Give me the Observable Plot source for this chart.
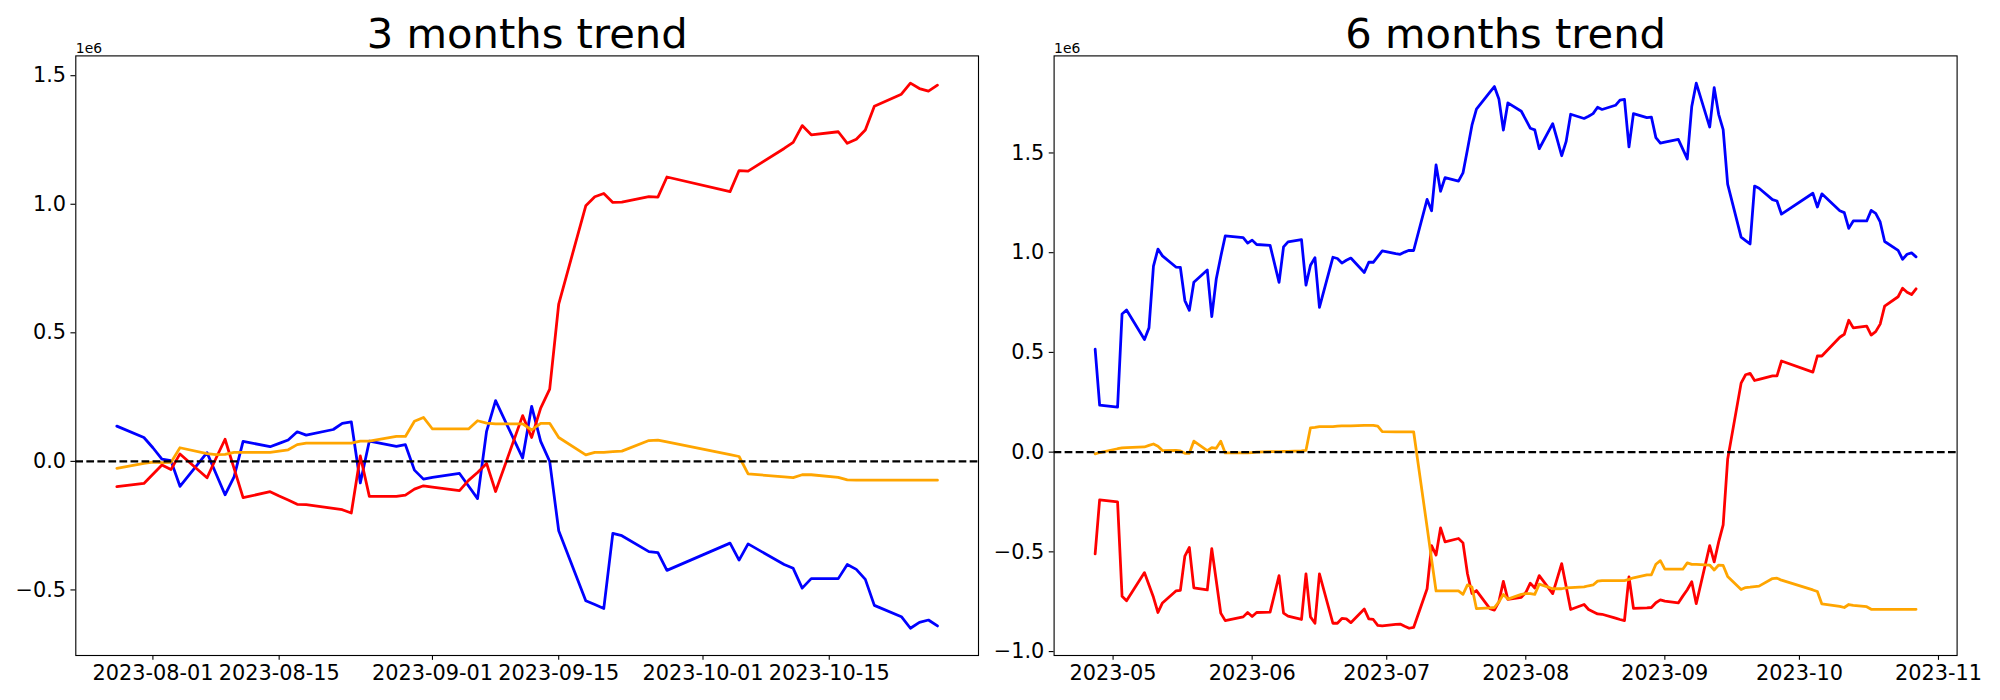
<!DOCTYPE html>
<html><head><meta charset="utf-8">
<script src="https://cdn.jsdelivr.net/npm/d3@7"></script>
<script src="https://cdn.jsdelivr.net/npm/@observablehq/plot@0.6"></script>
<style>
body{margin:0;background:#fff;}
#fig{display:flex;width:2000px;height:700px;overflow:hidden;}
</style></head><body><div id="fig"></div>
<script>
// ---- 3 months panel (values in units of 1e6) ----
const datesL = [
 "2023-07-28","2023-07-31",
 "2023-08-01","2023-08-02","2023-08-03","2023-08-04",
 "2023-08-07","2023-08-08","2023-08-09","2023-08-10","2023-08-11",
 "2023-08-14","2023-08-15","2023-08-16","2023-08-17","2023-08-18",
 "2023-08-21","2023-08-22","2023-08-23","2023-08-24","2023-08-25",
 "2023-08-28","2023-08-29","2023-08-30","2023-08-31",
 "2023-09-01",
 "2023-09-04","2023-09-05","2023-09-06","2023-09-07","2023-09-08",
 "2023-09-11","2023-09-12","2023-09-13","2023-09-14","2023-09-15",
 "2023-09-18","2023-09-19","2023-09-20","2023-09-21","2023-09-22",
 "2023-09-25","2023-09-26","2023-09-27",
 "2023-10-04","2023-10-05","2023-10-06",
 "2023-10-10","2023-10-11","2023-10-12","2023-10-13",
 "2023-10-16","2023-10-17","2023-10-18","2023-10-19","2023-10-20",
 "2023-10-23","2023-10-24","2023-10-25","2023-10-26","2023-10-27"];
const blueL = [0.137,0.093,
 0.053,0.009,0.003,-0.097,
 0.034,-0.048,-0.130,-0.060,0.078,
 0.057,0.070,0.083,0.115,0.102,
 0.124,0.148,0.154,-0.084,0.079,
 0.058,0.065,-0.034,-0.069,
 -0.062,
 -0.047,-0.096,-0.145,0.117,0.236,
 0.013,0.214,0.078,0.000,-0.270,
 -0.542,-0.557,-0.572,-0.280,-0.289,
 -0.351,-0.355,-0.424,
 -0.318,-0.384,-0.321,
 -0.401,-0.416,-0.493,-0.456,
 -0.456,-0.401,-0.420,-0.459,-0.560,
 -0.604,-0.649,-0.626,-0.617,-0.640];
const redL = [-0.098,-0.086,
 -0.050,-0.014,-0.032,0.029,
 -0.064,0.012,0.086,-0.027,-0.141,
 -0.118,-0.135,-0.150,-0.167,-0.168,
 -0.183,-0.188,-0.201,0.021,-0.136,
 -0.136,-0.131,-0.108,-0.095,
 -0.100,
 -0.114,-0.074,-0.043,-0.008,-0.117,
 0.178,0.093,0.207,0.281,0.612,
 0.994,1.029,1.042,1.007,1.008,
 1.030,1.028,1.106,
 1.049,1.131,1.129,
 1.217,1.241,1.306,1.270,
 1.282,1.237,1.253,1.289,1.381,
 1.428,1.471,1.450,1.440,1.463];
const orangeL = [-0.027,-0.008,
 -0.003,-0.005,-0.004,0.053,
 0.030,0.026,0.027,0.035,0.035,
 0.035,0.040,0.045,0.065,0.071,
 0.071,0.071,0.071,0.079,0.079,
 0.097,0.097,0.156,0.171,
 0.126,
 0.126,0.126,0.158,0.149,0.146,
 0.146,0.122,0.148,0.148,0.093,
 0.025,0.035,0.035,0.038,0.040,
 0.081,0.083,0.076,
 0.026,0.019,-0.049,
 -0.060,-0.063,-0.052,-0.052,
 -0.062,-0.072,-0.073,-0.073,-0.073,
 -0.073,-0.073,-0.073,-0.073,-0.073];
const xTicksL = ["2023-08-01","2023-08-15","2023-09-01","2023-09-15","2023-10-01","2023-10-15"];
const yTicksL = [-0.5,0.0,0.5,1.0,1.5];

// ---- 6 months panel ----
const datesR = [
 "2023-04-27","2023-04-28",
 "2023-05-02","2023-05-03","2023-05-04",
 "2023-05-08","2023-05-09","2023-05-10","2023-05-11","2023-05-12",
 "2023-05-15","2023-05-16","2023-05-17","2023-05-18","2023-05-19",
 "2023-05-22","2023-05-23","2023-05-24","2023-05-25","2023-05-26",
 "2023-05-30","2023-05-31",
 "2023-06-01","2023-06-02",
 "2023-06-05","2023-06-07","2023-06-08","2023-06-09",
 "2023-06-12","2023-06-13","2023-06-14","2023-06-15","2023-06-16",
 "2023-06-19","2023-06-20","2023-06-21","2023-06-22","2023-06-23",
 "2023-06-26","2023-06-27","2023-06-28","2023-06-29","2023-06-30",
 "2023-07-03","2023-07-04","2023-07-05","2023-07-06","2023-07-07",
 "2023-07-10","2023-07-11","2023-07-12","2023-07-13","2023-07-14",
 "2023-07-17","2023-07-18","2023-07-19","2023-07-20","2023-07-21",
 "2023-07-24","2023-07-25","2023-07-26","2023-07-27",
 ...datesL];
const blueR = [0.516,0.236,
 0.226,0.693,0.713, 0.565,0.623,0.933,1.018,0.984, 0.928,0.926,0.760,0.711,0.852, 0.913,0.679,0.868,0.980,1.084, 1.075,1.048,
 1.063,1.041, 1.037,0.851,1.029,1.054, 1.065,0.837,0.937,0.975,0.726, 0.977,0.971,0.948,0.962,0.973, 0.901,0.952,0.952,0.980,1.009,
 0.995,0.992,1.003,1.012,1.011, 1.267,1.210,1.440,1.308,1.376, 1.359,1.400,1.517,1.639,1.720, 1.805,1.833,1.771,1.615,1.751, 1.709,
 1.667,1.624,1.616,1.521, 1.647,1.568,1.486,1.558,1.694, 1.673,1.684,1.697,1.729,1.718, 1.739,1.765,1.769,1.530,1.697, 1.677,1.680,1.577,1.549,
 1.554, 1.568,1.519,1.470,1.733,1.850, 1.630,1.827,1.694,1.617,1.344, 1.078,1.061,1.044,1.334,1.323, 1.266,1.259,1.193,
 1.298,1.229,1.295, 1.210,1.201,1.122,1.159, 1.159,1.212,1.197,1.154,1.056, 1.012,0.967,0.992,0.999,0.979];
const redR = [-0.510,-0.239,
 -0.250,-0.723,-0.745, -0.604,-0.666,-0.728,-0.804,-0.756, -0.696,-0.693,-0.521,-0.478,-0.681, -0.691,-0.484,-0.645,-0.807,-0.845, -0.826,-0.804,
 -0.824,-0.804, -0.802,-0.619,-0.807,-0.822, -0.839,-0.610,-0.826,-0.858,-0.610, -0.858,-0.858,-0.834,-0.836,-0.855, -0.787,-0.836,-0.839,-0.869,-0.871,
 -0.864,-0.862,-0.873,-0.883,-0.879, -0.685,-0.469,-0.516,-0.380,-0.450, -0.433,-0.455,-0.610,-0.709,-0.694, -0.785,-0.792,-0.751,-0.648,-0.738, -0.728,
 -0.704,-0.657,-0.681,-0.619, -0.709,-0.634,-0.559,-0.674,-0.789, -0.764,-0.789,-0.800,-0.811,-0.813, -0.832,-0.839,-0.845,-0.625,-0.783, -0.781,-0.779,-0.755,-0.741,
 -0.747, -0.756,-0.722,-0.690,-0.650,-0.760, -0.469,-0.550,-0.450,-0.365,-0.036, 0.346,0.388,0.395,0.359,0.365, 0.382,0.382,0.457,
 0.401,0.482,0.482, 0.576,0.591,0.661,0.623, 0.632,0.587,0.604,0.642,0.732, 0.779,0.822,0.802,0.790,0.819];
const orangeR = [-0.009,-0.002,
 0.017,0.021,0.023, 0.026,0.034,0.041,0.030,0.008, 0.009,0.006,-0.006,-0.006,0.055, 0.008,0.023,0.019,0.055,-0.004, -0.004,-0.004,
 -0.002,0.000, 0.002,0.002,0.004,0.004, 0.006,0.009,0.122,0.124,0.128, 0.128,0.130,0.132,0.132,0.132, 0.134,0.134,0.134,0.130,0.103,
 0.102,0.102,0.102,0.102,0.102, -0.376,-0.538,-0.696,-0.696,-0.696, -0.696,-0.713,-0.666,-0.676,-0.785, -0.781,-0.779,-0.751,-0.713,-0.737, -0.713,
 -0.709,-0.709,-0.713,-0.662, -0.685,-0.685,-0.685,-0.681,-0.679, -0.676,-0.670,-0.666,-0.647,-0.644, -0.644,-0.644,-0.644,-0.638,-0.630, -0.615,-0.615,-0.562,-0.544,
 -0.587, -0.587,-0.587,-0.555,-0.563,-0.563, -0.566,-0.591,-0.566,-0.568,-0.623, -0.689,-0.679,-0.677,-0.674,-0.672, -0.634,-0.632,-0.642,
 -0.691,-0.699,-0.761, -0.773,-0.779,-0.764,-0.768, -0.775,-0.788,-0.788,-0.788,-0.788, -0.788,-0.788,-0.788,-0.788,-0.788];
const xTicksR = ["2023-05-01","2023-06-01","2023-07-01","2023-08-01","2023-09-01","2023-10-01","2023-11-01"];
const yTicksR = [-1.0,-0.5,0.0,0.5,1.0,1.5];

const parse = d3.utcParse("%Y-%m-%d");
const PT = 100/72; // px per point at 100 dpi

function panel({title, dates, blue, red, orange, xTicks, xFmt, yTicks, width, ml, mr}) {
  const X = dates.map(parse);
  const rows = vals => X.map((d, i) => ({date: d, v: vals[i]}));
  const t0 = +X[0], t1 = +X[X.length - 1], px = (t1 - t0) * 0.05;
  const all = [...blue, ...red, ...orange];
  const y0 = d3.min(all), y1 = d3.max(all), py = (y1 - y0) * 0.05;
  const lw = 2 * PT;
  const tick = 3.5 * PT;
  return Plot.plot({
    width, height: 700,
    marginLeft: ml, marginRight: mr, marginTop: 55.4, marginBottom: 45,
    style: {fontFamily: "DejaVu Sans", color: "black", background: "white", overflow: "visible"},
    x: {type: "utc", domain: [new Date(t0 - px), new Date(t1 + px)]},
    y: {domain: [y0 - py, y1 + py]},
    marks: [
      Plot.line(rows(blue), {x: "date", y: "v", stroke: "#0000ff", strokeWidth: lw, strokeLinejoin: "round"}),
      Plot.line(rows(red), {x: "date", y: "v", stroke: "#ff0000", strokeWidth: lw, strokeLinejoin: "round"}),
      Plot.line(rows(orange), {x: "date", y: "v", stroke: "#ffa500", strokeWidth: lw, strokeLinejoin: "round"}),
      Plot.ruleY([0], {stroke: "black", strokeWidth: 1.5 * PT, strokeDasharray: `${3.7*1.5*PT},${1.6*1.5*PT}`}),
      Plot.frame({stroke: "black", strokeWidth: 0.8 * PT}),
      Plot.axisX({ticks: xTicks.map(parse), tickFormat: d3.utcFormat(xFmt), tickSize: tick, tickPadding: tick,
        fontSize: 15 * PT, strokeWidth: 0.8 * PT, label: null}),
      Plot.axisY({ticks: yTicks, tickFormat: d => d.toFixed(1).replace("-", "\u2212"), tickSize: tick, tickPadding: tick,
        fontSize: 15 * PT, strokeWidth: 0.8 * PT, label: null}),
      Plot.text([title], {frameAnchor: "top", lineAnchor: "bottom", dy: -6 * PT, fontSize: 30 * PT, fill: "black"}),
      Plot.text(["1e6"], {frameAnchor: "top-left", textAnchor: "start", lineAnchor: "bottom", dy: -3, fontSize: 10 * PT, fill: "black"})
    ]
  });
}

const fig = document.getElementById("fig");
fig.append(panel({title: "3 months trend", dates: datesL, blue: blueL, red: redL, orange: orangeL,
  xTicks: xTicksL, xFmt: "%Y-%m-%d", yTicks: yTicksL, width: 990, ml: 75.3, mr: 12}));
fig.append(panel({title: "6 months trend", dates: datesR, blue: blueR, red: redR, orange: orangeR,
  xTicks: xTicksR, xFmt: "%Y-%m", yTicks: yTicksR, width: 1010, ml: 63.6, mr: 43.4}));
</script></body></html>
